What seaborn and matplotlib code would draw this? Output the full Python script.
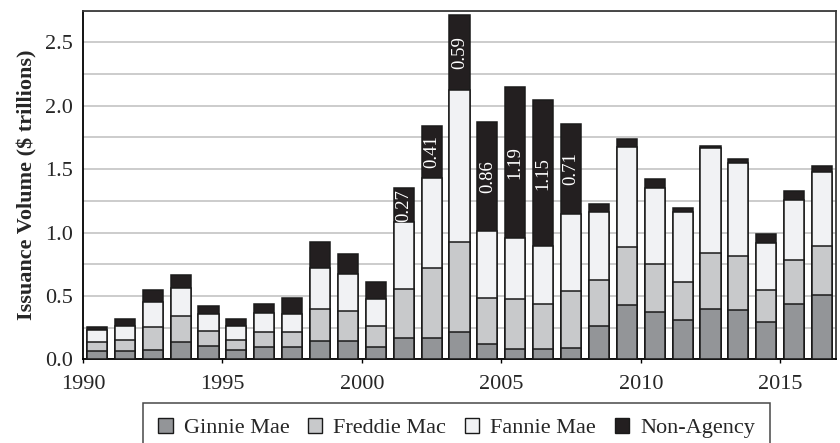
import numpy as np
import pandas as pd
import seaborn as sns
import matplotlib
matplotlib.use("Agg")
import matplotlib.pyplot as plt
from matplotlib.patches import Patch
from matplotlib.ticker import MultipleLocator

years = list(range(1990, 2017))
ginnie = [0.065, 0.065, 0.077, 0.138, 0.109, 0.072, 0.098, 0.098, 0.148, 0.148,
          0.101, 0.169, 0.169, 0.217, 0.122, 0.083, 0.083, 0.093, 0.266, 0.432,
          0.374, 0.311, 0.400, 0.390, 0.296, 0.435, 0.508]
freddie = [0.073, 0.089, 0.181, 0.207, 0.118, 0.084, 0.121, 0.119, 0.250, 0.234,
           0.163, 0.389, 0.550, 0.709, 0.365, 0.396, 0.357, 0.447, 0.358, 0.457,
           0.381, 0.300, 0.439, 0.428, 0.254, 0.349, 0.386]
fannie = [0.092, 0.108, 0.193, 0.218, 0.129, 0.108, 0.147, 0.144, 0.321, 0.294,
          0.210, 0.523, 0.714, 1.198, 0.523, 0.478, 0.452, 0.609, 0.538, 0.783,
          0.594, 0.549, 0.828, 0.728, 0.370, 0.471, 0.581]
non_agency = [0.028, 0.055, 0.094, 0.103, 0.068, 0.053, 0.074, 0.126, 0.209, 0.158,
              0.139, 0.27, 0.41, 0.59, 0.86, 1.19, 1.15, 0.71, 0.063, 0.068,
              0.073, 0.031, 0.018, 0.036, 0.067, 0.070, 0.052]
labeled_years = [2001, 2002, 2003, 2004, 2005, 2006, 2007]

series = ["Ginnie Mae", "Freddie Mac", "Fannie Mae", "Non-Agency"]
colors = {"Ginnie Mae": "#939598", "Freddie Mac": "#c8c9cb",
          "Fannie Mae": "#f1f2f4", "Non-Agency": "#231f20"}

df = pd.DataFrame({"year": years, "Ginnie Mae": ginnie, "Freddie Mac": freddie,
                   "Fannie Mae": fannie, "Non-Agency": non_agency})
df["pos"] = df["year"] + 0.5
cum = df[series].cumsum(axis=1)

sns.set_theme(style="white")
plt.rcParams["font.family"] = ["Liberation Serif", "DejaVu Serif"]
plt.rcParams["font.size"] = 16

fig, ax = plt.subplots(figsize=(8.4, 4.43), dpi=100)
fig.subplots_adjust(left=0.0988, right=0.9952, top=0.976, bottom=0.1885)

# stacked look: draw cumulative totals from the top layer down
for name in reversed(series):
    sns.barplot(x=df["pos"], y=cum[name], native_scale=True, width=0.72,
                color=colors[name], saturation=1, edgecolor="#1a1a1a",
                linewidth=1.1, errorbar=None, ax=ax, zorder=3)

# non-agency labels
for _, row in df[df["year"].isin(labeled_years)].iterrows():
    base = row["Ginnie Mae"] + row["Freddie Mac"] + row["Fannie Mae"]
    ax.text(row["pos"], base + row["Non-Agency"] / 2, f"{row['Non-Agency']:.2f}",
            rotation=90, ha="center", va="center", color="white",
            fontsize=13.5, zorder=5)

ax.set_xlim(1990, 2017)
ax.set_ylim(0, 2.75)
ax.xaxis.set_major_locator(MultipleLocator(5))
ax.yaxis.set_major_locator(MultipleLocator(0.5))
ax.yaxis.set_minor_locator(MultipleLocator(0.25))
ax.yaxis.set_major_formatter(matplotlib.ticker.FormatStrFormatter("%.1f"))
ax.grid(axis="y", which="both", color="#c4c4c4", linewidth=1.2, zorder=0)
ax.set_axisbelow(True)
ax.tick_params(axis="x", which="major", length=3, width=1, direction="out",
               pad=8, labelsize=16, bottom=True, color="black")
ax.tick_params(axis="y", which="both", length=0, pad=7, labelsize=16)
ax.set_xlabel("")
ax.set_ylabel("Issuance Volume ($ trillions)", fontsize=16, fontweight="bold",
              labelpad=6)

for side in ["left", "bottom"]:
    ax.spines[side].set_color("black")
    ax.spines[side].set_linewidth(1.3)
for side in ["top", "right"]:
    ax.spines[side].set_color("#3a3a3a")
    ax.spines[side].set_linewidth(1.3)

handles = [Patch(facecolor=colors[n], edgecolor="#1a1a1a", linewidth=1, label=n)
           for n in series]
leg = fig.legend(handles=handles, loc="upper center", ncol=4,
                 bbox_to_anchor=(0.5435, 0.091), fontsize=16, frameon=True,
                 fancybox=False, edgecolor="#1a1a1a", handlelength=0.65,
                 handleheight=0.65, handletextpad=0.5, columnspacing=0.83,
                 borderpad=0.7, borderaxespad=0)
leg.get_frame().set_linewidth(1.1)

fig.savefig("out.png", dpi=100)
